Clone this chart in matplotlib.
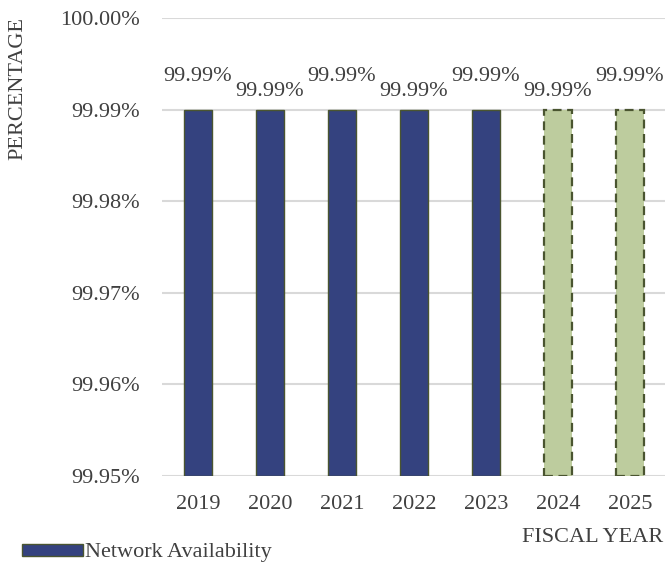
import matplotlib
matplotlib.use("Agg")
import matplotlib.pyplot as plt
from matplotlib.patches import Patch
from matplotlib.ticker import FuncFormatter

years = ["2019", "2020", "2021", "2022", "2023", "2024", "2025"]
availability = [99.99, 99.99, 99.99, 99.99, 99.99, 99.99, 99.99]
is_projection = [False, False, False, False, False, True, True]
value_labels = ["99.99%"] * 7

plt.rcParams["font.family"] = ["Liberation Serif", "DejaVu Serif"]
text_color = "#404040"
fs = 16

fig = plt.figure(figsize=(6.65, 5.66), dpi=100)
ax = fig.add_axes([162 / 665, 90 / 566, 504 / 665, 458 / 566])

ymin, ymax = 99.95, 100.00
x = list(range(len(years)))
for xi, v, proj in zip(x, availability, is_projection):
    if proj:
        ax.bar(xi, v - ymin, bottom=ymin, width=0.4, color="#BDCC9E",
               edgecolor="#4A5530", linewidth=1.6, linestyle=(0, (4, 2.5)), zorder=3)
    else:
        ax.bar(xi, v - ymin, bottom=ymin, width=0.4, color="#34427F",
               edgecolor="#4A5530", linewidth=1.0, zorder=3)

for i, (xi, v, lab) in enumerate(zip(x, availability, value_labels)):
    off = 24 if i % 2 == 0 else 13
    ax.annotate(lab, (xi, v), xytext=(0, off), textcoords="offset points",
                ha="center", va="center", fontsize=fs, color=text_color)

ax.set_xlim(-0.5, len(years) - 0.5)
ax.set_ylim(ymin, ymax)
ax.set_yticks([99.95, 99.96, 99.97, 99.98, 99.99, 100.00])
ax.yaxis.set_major_formatter(FuncFormatter(lambda v, p: f"{v:.2f}%"))
ax.set_xticks(x)
ax.set_xticklabels(years)
ax.tick_params(axis="both", length=0, labelsize=fs, colors=text_color)
ax.tick_params(axis="y", pad=16)
ax.tick_params(axis="x", pad=14)
ax.grid(axis="y", color="#D9D9D9", linewidth=1.5, zorder=0)
ax.set_axisbelow(True)
for s in ax.spines.values():
    s.set_visible(False)

fig.text(18 / 665, 1 - 88 / 566, "PERCENTAGE", rotation=90, ha="center", va="center",
         fontsize=fs, color=text_color)
fig.text(663 / 665, 1 - 538 / 566, "FISCAL YEAR", ha="right", va="center",
         fontsize=fs, color=text_color)

handle = Patch(facecolor="#34427F", edgecolor="#4A5530", linewidth=1.0)
fig.legend([handle], ["Network Availability"], loc="center left",
           bbox_to_anchor=(22 / 665, 1 - 553 / 566), frameon=False,
           fontsize=fs, labelcolor=text_color, handlelength=2.75,
           handleheight=0.45, handletextpad=0.1, borderpad=0, borderaxespad=0)

fig.savefig("out.png", dpi=100)
